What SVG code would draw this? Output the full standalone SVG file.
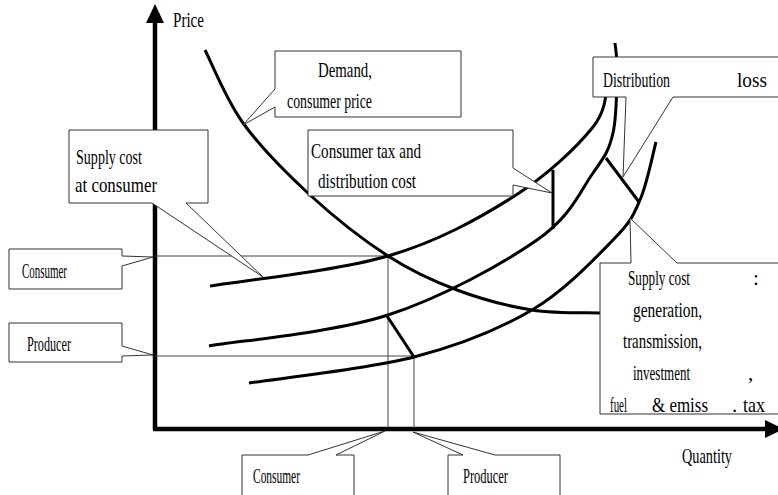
<svg xmlns="http://www.w3.org/2000/svg" width="778" height="495" viewBox="0 0 778 495">
<style>
  .t { font-family: "Liberation Serif", "Times New Roman", serif; font-size: 21px; fill: #000; }
  .box { fill: #fff; stroke: #333; stroke-width: 1; }
  .thin { fill: none; stroke: #444; stroke-width: 1; }
  .curve { fill: none; stroke: #000; stroke-width: 3; stroke-linecap: butt; }
  .axis { fill: none; stroke: #000; stroke-width: 4.5; }
</style>
<rect width="778" height="495" fill="#fff"/>
<g id="axes">
  <line class="axis" x1="155" y1="22" x2="155" y2="430"/>
  <line class="axis" x1="153" y1="429" x2="766" y2="429"/>
  <polygon points="146,23 155,4 164,23" fill="#000"/>
  <polygon points="765,420 784,429 765,438" fill="#000"/>
  <text class="t" x="173" y="27" textLength="31" lengthAdjust="spacingAndGlyphs">Price</text>
  <text class="t" x="682" y="463" textLength="50" lengthAdjust="spacingAndGlyphs">Quantity</text>
</g>
<g id="connectors">
  <path class="thin" d="M155,256 H388 V428"/>
  <path class="thin" d="M155,356 H414 V428"/>
  <path id="demand" class="curve" d="M205,50 C211.3,62.2 225.5,98.8 243,123 C260.5,147.2 285.8,172.8 310,195 C334.2,217.2 363.5,240.2 388,256 C412.5,271.8 433,281 457,290 C481,299 508.2,306.2 532,310 C555.8,313.8 588.7,312.5 600,313"/>
  <path id="supply1" class="curve" d="M210,286 C239.7,281 337.5,270.8 388,256 C438.5,241.2 478.8,218.5 513,197 C547.2,175.5 577.2,146.8 593,127 C608.8,107.2 605.5,86.2 608,78"/>
  <path id="supply2" class="curve" d="M209,346 C238.8,340.8 333.3,332.7 388,315 C442.7,297.3 502.8,263.7 537,240 C571.2,216.3 580.3,190.8 593,173 C605.7,155.2 609,150.2 613,133 C617,115.8 616.7,85 617,70 C617.3,55 615.3,47.5 615,43"/>
  <path id="supply3" class="curve" d="M249,383 C276.5,378.7 366.8,369.2 414,357 C461.2,344.8 498.8,329.5 532,310 C565.2,290.5 595,258.3 613,240 C631,221.7 632.8,216.3 640,200 C647.2,183.7 653.3,151.7 656,142"/>
  <line class="curve" x1="553" y1="170" x2="553" y2="229"/>
  <line class="curve" x1="606" y1="158" x2="639" y2="202"/>
  <line class="curve" x1="387" y1="316" x2="414" y2="357"/>
</g>
<g id="demand-label">
  <path class="box" d="M275,51 H461 V117 H275 V107 L243,125 L275,89 Z"/>
  <text class="t" x="318" y="77" textLength="54" lengthAdjust="spacingAndGlyphs">Demand,</text>
  <text class="t" x="287" y="108" textLength="85" lengthAdjust="spacingAndGlyphs">consumer price</text>
</g>
<g id="tax-label">
  <path class="box" d="M308,130 H513 V168 L552,193 L513,185 V196 H308 Z"/>
  <text class="t" x="311" y="158" textLength="110" lengthAdjust="spacingAndGlyphs">Consumer tax and</text>
  <text class="t" x="318" y="188" textLength="98" lengthAdjust="spacingAndGlyphs">distribution cost</text>
</g>
<g id="supply-consumer-label">
  <path class="box" d="M69,130 H208 V203 H186 L263,277 L152,203 H69 Z"/>
  <text class="t" x="76" y="164" textLength="66" lengthAdjust="spacingAndGlyphs">Supply cost</text>
  <text class="t" x="75" y="192" textLength="82" lengthAdjust="spacingAndGlyphs">at consumer</text>
</g>
<g id="loss-label">
  <path class="box" d="M593,57 H790 V97 H673 L623,177 L626,97 H593 Z"/>
  <text class="t" x="603" y="87" textLength="67" lengthAdjust="spacingAndGlyphs">Distribution</text>
  <text class="t" x="737" y="87" textLength="30" lengthAdjust="spacingAndGlyphs">loss</text>
</g>
<g id="supply-cost-label">
  <path class="box" d="M600,263 H631 L630,218 L677,263 H790 V414 H600 Z"/>
  <text class="t" x="628" y="285" textLength="62" lengthAdjust="spacingAndGlyphs">Supply cost</text>
  <text class="t" x="753" y="285">:</text>
  <text class="t" x="633" y="317" textLength="69" lengthAdjust="spacingAndGlyphs">generation,</text>
  <text class="t" x="623" y="348" textLength="79" lengthAdjust="spacingAndGlyphs">transmission,</text>
  <text class="t" x="633" y="380" textLength="57" lengthAdjust="spacingAndGlyphs">investment</text>
  <text class="t" x="748" y="380">,</text>
  <text class="t" x="610" y="412" textLength="17" lengthAdjust="spacingAndGlyphs">fuel</text>
  <text class="t" x="652" y="412" textLength="56" lengthAdjust="spacingAndGlyphs">&amp; emiss</text>
  <text class="t" x="732" y="412">.</text>
  <text class="t" x="743" y="412" textLength="22" lengthAdjust="spacingAndGlyphs">tax</text>
</g>
<g id="consumer-price-label">
  <path class="box" d="M9,249 H122 V256 L153,257 L122,266 V289 H9 Z"/>
  <text class="t" x="22" y="278" textLength="45" lengthAdjust="spacingAndGlyphs">Consumer</text>
</g>
<g id="producer-price-label">
  <path class="box" d="M9,323 H122 V346 L153,355 L122,356 V362 H9 Z"/>
  <text class="t" x="27" y="351" textLength="44" lengthAdjust="spacingAndGlyphs">Producer</text>
</g>
<g id="consumer-quantity-label">
  <path class="box" d="M242,455 H308 L385,431 L336,455 H354 V500 H242 Z"/>
  <text class="t" x="253" y="483" textLength="47" lengthAdjust="spacingAndGlyphs">Consumer</text>
</g>
<g id="producer-quantity-label">
  <path class="box" d="M448,455 H463 L413,432 L495,455 H560 V500 H448 Z"/>
  <text class="t" x="463" y="483" textLength="45" lengthAdjust="spacingAndGlyphs">Producer</text>
</g>
</svg>
